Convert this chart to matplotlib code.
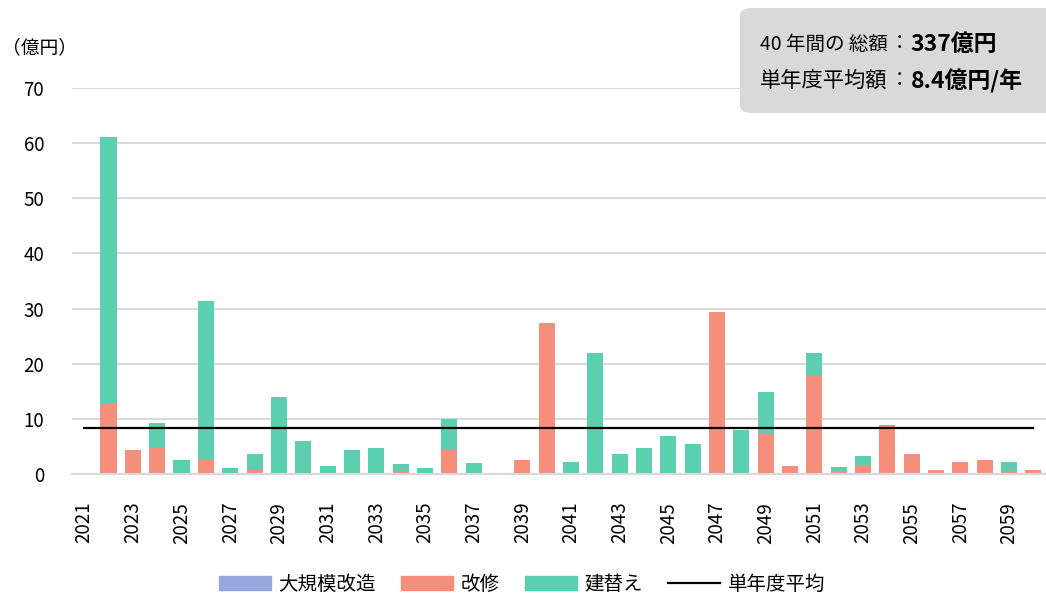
import matplotlib.pyplot as plt
from matplotlib.patches import FancyBboxPatch
from matplotlib.lines import Line2D
from matplotlib.patches import Patch
import numpy as np

plt.rcParams['font.family'] = ['Noto Sans CJK JP', 'DejaVu Sans']

# データ（億円）
years = list(range(2021, 2061))
daikibo = [0.0] * 40
kaishu = [0.0, 12.7, 4.4, 4.7, 0.0, 2.5, 0.0, 0.7, 0.0, 0.0,
          0.0, 0.0, 0.0, 0.6, 0.0, 4.3, 0.25, 0.0, 2.6, 27.4,
          0.0, 0.0, 0.0, 0.0, 0.0, 0.0, 29.3, 0.0, 7.2, 1.5,
          17.8, 0.55, 1.7, 8.8, 3.7, 0.7, 2.2, 2.6, 0.6, 0.7]
tatekae = [0.0, 48.4, 0.0, 4.6, 2.6, 28.8, 1.15, 3.0, 13.9, 5.9,
           1.5, 4.4, 4.8, 1.2, 1.1, 5.6, 1.75, 0.0, 0.0, 0.0,
           2.2, 21.9, 3.7, 4.75, 6.95, 5.5, 0.0, 8.05, 7.6, 0.0,
           4.15, 0.75, 1.6, 0.0, 0.0, 0.0, 0.0, 0.0, 1.6, 0.0]
average = 8.4
yticks = [0, 10, 20, 30, 40, 50, 60, 70]

c_daikibo = '#97A6DD'
c_kaishu = '#F68E7C'
c_tatekae = '#5DCFB1'
c_grid = '#D9D9D9'

W, H = 1046, 594
fig = plt.figure(figsize=(W / 100, H / 100), dpi=100)
ax = fig.add_axes([72 / W, (H - 474) / H, (1045.6 - 72) / W, (474 - 88) / H])

x = np.arange(len(years))
kaishu = np.array(kaishu)
tatekae = np.array(tatekae)
daikibo = np.array(daikibo)
w = 0.66
ax.bar(x, daikibo, w, color=c_daikibo, zorder=2)
ax.bar(x, kaishu, w, bottom=daikibo, color=c_kaishu, zorder=2)
ax.bar(x, tatekae, w, bottom=daikibo + kaishu, color=c_tatekae, zorder=2)

# 単年度平均
ax.plot([x[0], x[-1]], [average, average], color='black', lw=1.6, zorder=3)

ax.set_xlim(-0.5, len(years) - 0.5)
ax.set_ylim(0, 70)
ax.set_yticks(yticks)
ax.set_yticklabels([str(v) for v in yticks], fontsize=13.5)
ax.set_xticks(x[::2])
ax.set_xticklabels([str(y) for y in years[::2]], rotation=90, fontsize=13.5)
ax.tick_params(axis='both', length=0)
ax.tick_params(axis='y', pad=20)
ax.tick_params(axis='x', pad=20)
ax.yaxis.grid(True, color=c_grid, lw=1.5, zorder=0)
ax.set_axisbelow(True)
for s in ['top', 'right', 'left']:
    ax.spines[s].set_visible(False)
ax.spines['bottom'].set_color(c_grid)
ax.spines['bottom'].set_linewidth(1.5)

fig.text(2 / W, 1 - 48 / H, '（億円）', fontsize=13.5, va='center', ha='left')

# 総額ボックス
box = FancyBboxPatch((740 / W, (H - 113) / H), 330 / W, 105 / H,
                     boxstyle='round,pad=0,rounding_size=0.012',
                     transform=fig.transFigure, facecolor='#D9D9D9',
                     edgecolor='none', zorder=0)
fig.patches.append(box)
fig.text(760 / W, 1 - 44 / H, '40 年間の 総額', fontsize=14, va='center', ha='left')
fig.text(900 / W, 1 - 44 / H, '：', fontsize=14, va='center', ha='center')
fig.text(910 / W, 1 - 44 / H, '337億円', fontsize=16.5, fontweight='bold', va='center', ha='left')
fig.text(760 / W, 1 - 81 / H, '単年度平均額', fontsize=15.3, va='center', ha='left')
fig.text(900 / W, 1 - 81 / H, '：', fontsize=14, va='center', ha='center')
fig.text(911 / W, 1 - 81 / H, '8.4億円/年', fontsize=16.5, fontweight='bold', va='center', ha='left')

handles = [Patch(color=c_daikibo), Patch(color=c_kaishu), Patch(color=c_tatekae),
           Line2D([0], [0], color='black', lw=1.6)]
labels = ['大規模改造', '改修', '建替え', '単年度平均']
fig.legend(handles, labels, loc='center', bbox_to_anchor=(522 / W, 1 - 584 / H),
           ncol=4, frameon=False, fontsize=14, handlelength=2.68, handleheight=0.72,
           columnspacing=1.3, handletextpad=0.38)

fig.savefig('out.png', dpi=100)
